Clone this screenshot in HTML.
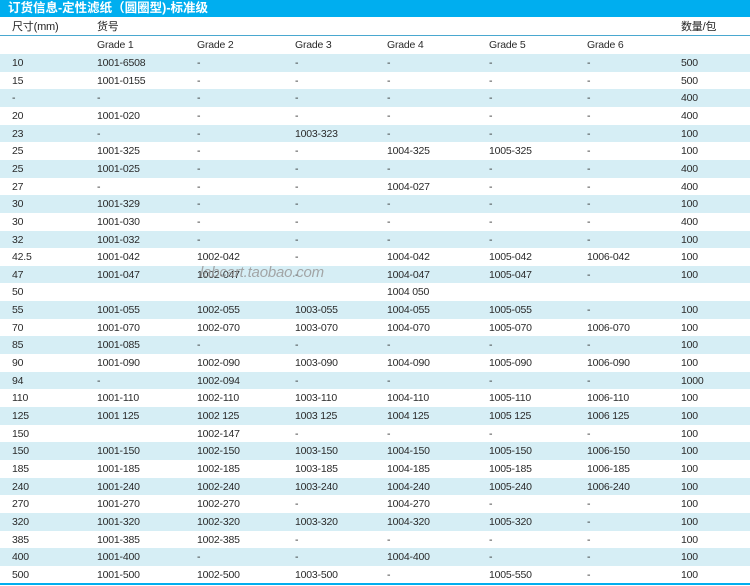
<!DOCTYPE html>
<html><head><meta charset="utf-8"><style>
*{margin:0;padding:0;box-sizing:border-box}
body{width:750px;height:586px;background:#fff;position:relative;overflow:hidden;font-family:"Liberation Sans","Noto Sans CJK SC",sans-serif;font-size:10.5px;color:#2a2a2a;letter-spacing:-0.2px}
.title{position:absolute;left:0;top:0;width:750px;height:17px;background:#00aeef;color:#fff;font-weight:bold;font-size:12.5px;line-height:17px;padding-left:8px;letter-spacing:0}
.r{position:absolute;left:0;width:750px;height:17.65px;line-height:18px}
.b{background:#d6eef5}
.r span{position:absolute;top:0;white-space:nowrap}
.c0{left:12px}.c1{left:97px}.c2{left:197px}.c3{left:295px}.c4{left:387px}.c5{left:489px}.c6{left:587px}.c7{left:681px}
.wm{position:absolute;left:200px;top:264px;font-size:15px;color:#999;font-style:italic;opacity:.85}
</style></head><body>
<div class="title">订货信息-定性滤纸（圆圈型)-标准级</div>
<div class="r" style="top:18px;font-size:11px;color:#222"><span class="c0">尺寸(mm)</span><span class="c1">货号</span><span class="c7">数量/包</span></div>
<div style="position:absolute;left:0;top:35px;width:750px;height:1px;background:#4aa8d0"></div>
<div class="r" style="top:36px"><span class="c1">Grade 1</span><span class="c2">Grade 2</span><span class="c3">Grade 3</span><span class="c4">Grade 4</span><span class="c5">Grade 5</span><span class="c6">Grade 6</span></div>
<div id="rows"></div>
<div style="position:absolute;left:0;top:583px;width:750px;height:2px;background:#00aeef"></div>
<script>
var d=[
["10","1001-6508","-","-","-","-","-","500"],
["15","1001-0155","-","-","-","-","-","500"],
["-","-","-","-","-","-","-","400"],
["20","1001-020","-","-","-","-","-","400"],
["23","-","-","1003-323","-","-","-","100"],
["25","1001-325","-","-","1004-325","1005-325","-","100"],
["25","1001-025","-","-","-","-","-","400"],
["27","-","-","-","1004-027","-","-","400"],
["30","1001-329","-","-","-","-","-","100"],
["30","1001-030","-","-","-","-","-","400"],
["32","1001-032","-","-","-","-","-","100"],
["42.5","1001-042","1002-042","-","1004-042","1005-042","1006-042","100"],
["47","1001-047","1002-047","-","1004-047","1005-047","-","100"],
["50","","","","1004 050","","",""],
["55","1001-055","1002-055","1003-055","1004-055","1005-055","-","100"],
["70","1001-070","1002-070","1003-070","1004-070","1005-070","1006-070","100"],
["85","1001-085","-","-","-","-","-","100"],
["90","1001-090","1002-090","1003-090","1004-090","1005-090","1006-090","100"],
["94","-","1002-094","-","-","-","-","1000"],
["110","1001-110","1002-110","1003-110","1004-110","1005-110","1006-110","100"],
["125","1001 125","1002 125","1003 125","1004 125","1005 125","1006 125","100"],
["150","","1002-147","-","-","-","-","100"],
["150","1001-150","1002-150","1003-150","1004-150","1005-150","1006-150","100"],
["185","1001-185","1002-185","1003-185","1004-185","1005-185","1006-185","100"],
["240","1001-240","1002-240","1003-240","1004-240","1005-240","1006-240","100"],
["270","1001-270","1002-270","-","1004-270","-","-","100"],
["320","1001-320","1002-320","1003-320","1004-320","1005-320","-","100"],
["385","1001-385","1002-385","-","-","-","-","100"],
["400","1001-400","-","-","1004-400","-","-","100"],
["500","1001-500","1002-500","1003-500","-","1005-550","-","100"]];
var h="";
d.forEach(function(r,i){h+='<div class="r'+(i%2==0?' b':'')+'" style="top:'+(54+i*17.65).toFixed(2)+'px">';r.forEach(function(c,j){if(c)h+='<span class="c'+j+'">'+c+'</span>'});h+='</div>'});
document.getElementById("rows").innerHTML=h;
</script>
<div class="wm">labcart.taobao.com</div>
</body></html>
